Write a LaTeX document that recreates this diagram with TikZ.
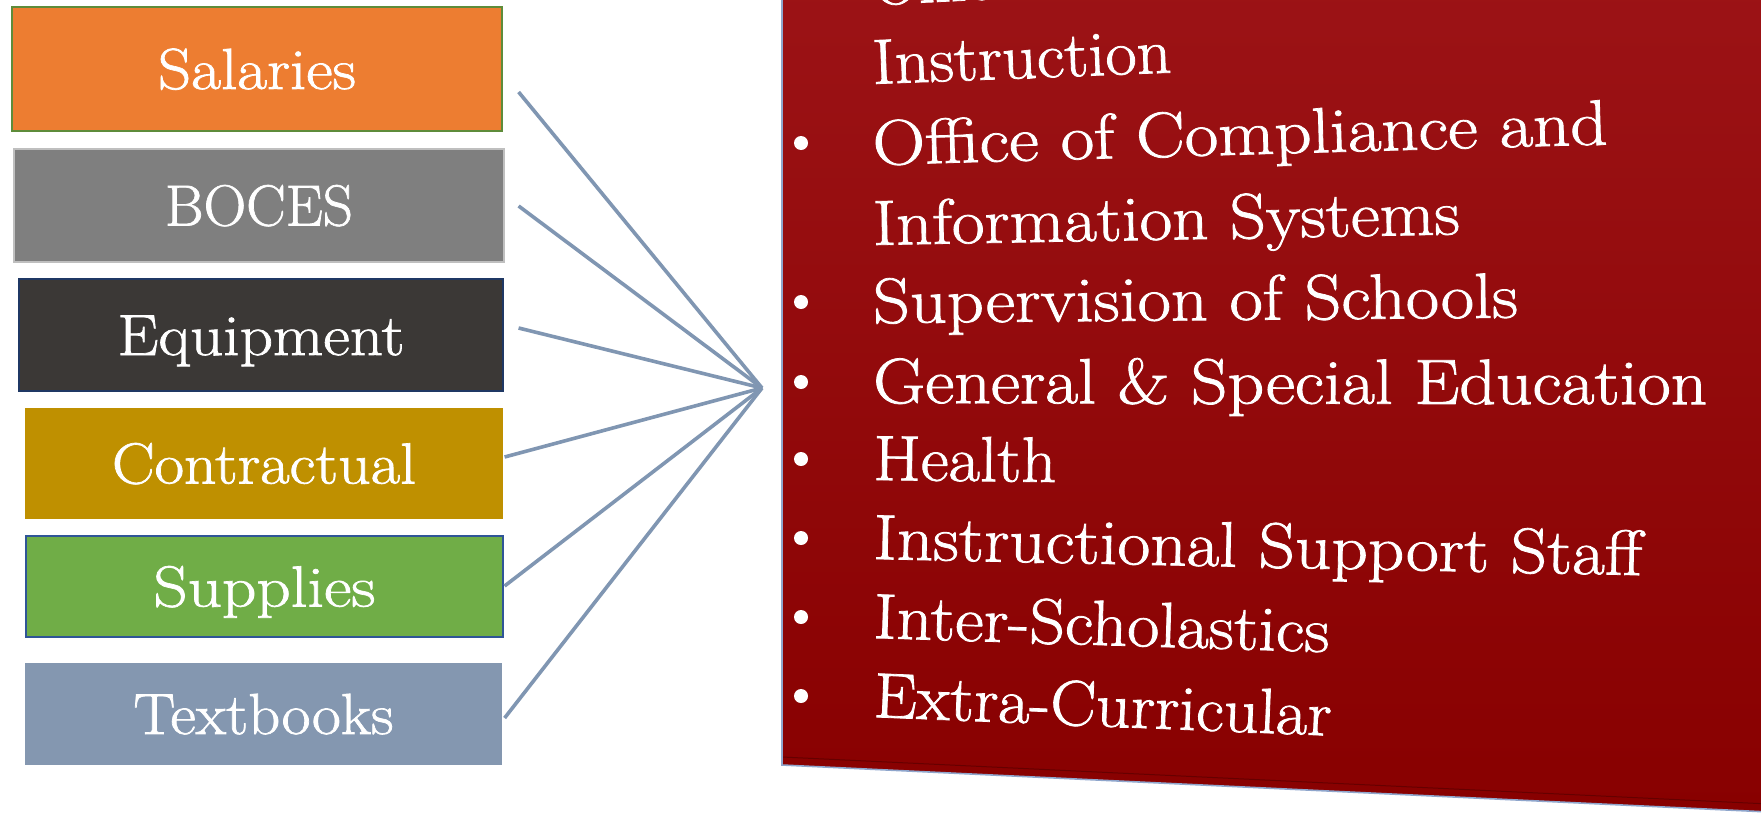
\documentclass[tikz,border=0pt]{standalone}
\usepackage{graphicx}
\usepackage{fontspec}
\newfontfamily\heavyrm{Latin Modern Roman}[FakeBold=1.2]
\usetikzlibrary{calc}
\definecolor{salC}{HTML}{ED7D31}
\definecolor{salB}{HTML}{5E8C3A}
\definecolor{bocC}{HTML}{7F7F7F}
\definecolor{bocB}{HTML}{BFBFBF}
\definecolor{equC}{HTML}{3B3836}
\definecolor{equB}{HTML}{1F3864}
\definecolor{conC}{HTML}{BF9000}
\definecolor{supC}{HTML}{70AD47}
\definecolor{supB}{HTML}{2F5597}
\definecolor{texC}{HTML}{8497B0}
\definecolor{linkC}{HTML}{8096B2}
\definecolor{panT}{HTML}{9C1316}
\definecolor{panB}{HTML}{880000}
\definecolor{panE}{HTML}{8FA6CC}
\newcommand{\fitw}[2]{\resizebox{#1}{\height}{#2}}
\begin{document}
\begin{tikzpicture}[x=1pt,y=-1pt,
  catbox/.style={rectangle, inner sep=0pt, text=white, line width=1.2pt,
    font=\heavyrm\fontsize{58}{58}\selectfont, text height=40pt, text depth=0pt},
  itemtext/.style={anchor=base west, inner sep=0pt, text=white,
    font=\heavyrm\fontsize{64}{64}\selectfont},
  bulletdot/.style={circle, fill=white, inner sep=0pt, minimum size=14pt},
  link/.style={draw=linkC, line width=3.6pt}]
\useasboundingbox (0,0) rectangle (1761,814);
\clip (0,0) rectangle (1761,814);
\fill[white] (0,0) rectangle (1761,814);

% category boxes
\node[catbox, fill=salC, draw=salB, minimum width=490pt, minimum height=124pt] (sal) at (257,69) {\fitw{198pt}{Salaries}};
\node[catbox, fill=bocC, draw=bocB, minimum width=490pt, minimum height=113pt] (boc) at (259,205.5) {\fitw{188pt}{BOCES}};
\node[catbox, fill=equC, draw=equB, minimum width=484pt, minimum height=112pt] (equ) at (261,335) {\fitw{287pt}{Equipment}};
\node[catbox, fill=conC, minimum width=478pt, minimum height=111pt] (con) at (264,463.5) {\fitw{304pt}{Contractual}};
\node[catbox, fill=supC, draw=supB, minimum width=477pt, minimum height=101pt] (sup) at (264.5,586.5) {\fitw{222pt}{Supplies}};
\node[catbox, fill=texC, minimum width=477pt, minimum height=102pt] (tex) at (263.5,714) {\fitw{260pt}{Textbooks}};

% red panel
\shade[top color=panT, bottom color=panB] (782,-20) -- (1790,-20) -- (1790,813) -- (782,765) -- cycle;
\draw[black, opacity=0.25, line width=1pt] (782,757) -- (1790,805);
\draw[panE, line width=1.6pt] (782,-20) -- (782,765) -- (1790,813);

% items
\node[itemtext, rotate=2.76] (i0) at (873,5) {Office of Curriculum and};
\node[itemtext, rotate=2.19] (i1) at (873,84) {\fitw{299pt}{Instruction}};
\node[itemtext, rotate=1.61] (i2) at (873,165) {\fitw{735pt}{Office of Compliance and}};
\node[itemtext, rotate=1.04] (i3) at (873,245) {\fitw{587pt}{Information Systems}};
\node[itemtext, rotate=0.48] (i4) at (873,323) {\fitw{645pt}{Supervision of Schools}};
\node[itemtext, rotate=-0.09] (i5) at (873,403) {\fitw{834pt}{General \& Special Education}};
\node[itemtext, rotate=-0.64] (i6) at (873,480) {\fitw{183pt}{Health}};
\node[itemtext, rotate=-1.21] (i7) at (873,559) {\fitw{769pt}{Instructional Support Staff}};
\node[itemtext, rotate=-1.78] (i8) at (873,638) {\fitw{456pt}{Inter-Scholastics}};
\node[itemtext, rotate=-2.34] (i9) at (873,717) {\fitw{458pt}{Extra-Curricular}};

\node[bulletdot] (b2) at (801,143) {};
\node[bulletdot] (b4) at (801,302) {};
\node[bulletdot] (b5) at (801,382) {};
\node[bulletdot] (b6) at (801,459) {};
\node[bulletdot] (b7) at (801,538) {};
\node[bulletdot] (b8) at (801,617) {};
\node[bulletdot] (b9) at (801,696) {};

% connectors
\coordinate (hub) at (762,388);
\coordinate (pSal) at ($(sal.east)+(16,23)$);
\coordinate (pBoc) at ($(boc.east)+(14,0.5)$);
\coordinate (pEqu) at ($(equ.east)+(15,-7)$);
\coordinate (pCon) at ($(con.east)+(1,-6.5)$);
\coordinate (pSup) at ($(sup.east)+(1,-0.5)$);
\coordinate (pTex) at ($(tex.east)+(2,4)$);
\draw[link] (pSal) -- (hub);
\draw[link] (pBoc) -- (hub);
\draw[link] (pEqu) -- (hub);
\draw[link] (pCon) -- (hub);
\draw[link] (pSup) -- (hub);
\draw[link] (pTex) -- (hub);
\end{tikzpicture}
\end{document}
